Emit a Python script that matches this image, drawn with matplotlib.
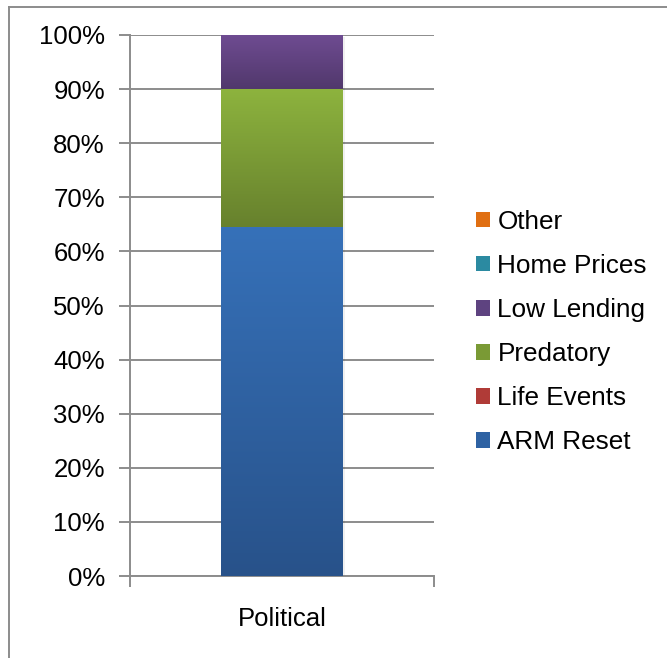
import numpy as np
import matplotlib
matplotlib.use('Agg')
import matplotlib.pyplot as plt
from matplotlib.colors import LinearSegmentedColormap
from matplotlib.patches import Patch
from matplotlib.lines import Line2D
from matplotlib.ticker import PercentFormatter

plt.rcParams['font.family'] = ['Liberation Sans', 'DejaVu Sans']

# dados
categorias = ['Political']
series = ['ARM Reset', 'Life Events', 'Predatory', 'Low Lending', 'Home Prices', 'Other']
valores = [64.5, 0.0, 25.5, 10.0, 0.0, 0.0]
cor_topo = ['#3671B9', '#C0504D', '#8DB33E', '#6F4C92', '#33A0B8', '#F07F1E']
cor_base = ['#28528A', '#94302C', '#67812D', '#51386C', '#237487', '#B85A0E']
cor_legenda = ['#2E62A3', '#B03B37', '#7A9A35', '#5E4380', '#2B8AA1', '#E06F12']

fig = plt.figure(figsize=(6.67, 6.58), dpi=100)
ax = fig.add_axes([130 / 667, 1 - 576 / 658, 304 / 667, 541 / 658])

base = 0.0
for i, nome in enumerate(series):
    barras = ax.bar(0, valores[i], width=0.4, bottom=base, color='none',
                    edgecolor='none', zorder=3)
    if valores[i] > 0:
        p = barras[0]
        x0, x1 = p.get_x(), p.get_x() + p.get_width()
        cmap = LinearSegmentedColormap.from_list(nome, [cor_base[i], cor_topo[i]])
        grad = np.linspace(0, 1, 256).reshape(-1, 1)
        im = ax.imshow(grad, cmap=cmap, origin='lower', aspect='auto',
                       extent=[x0, x1, base, base + valores[i]], zorder=3)
        im.set_clip_path(p)
        # sombra leve
        ax.bar(0.006, valores[i], width=0.4, bottom=base - 0.4, color='#000000',
               alpha=0.06, edgecolor='none', zorder=2)
    base += valores[i]

ax.set_xlim(-0.5, 0.5)
ax.set_ylim(0, 100)
ax.set_yticks(np.arange(0, 101, 10))
ax.yaxis.set_major_formatter(PercentFormatter(decimals=0))
ax.yaxis.grid(True, color='#8C8C8C', linewidth=1.4, zorder=0)
ax.set_axisbelow(True)

ax.set_xticks([-0.5, 0.5])
ax.set_xticklabels([])
ax.set_xticks([0], minor=True)
ax.set_xticklabels(categorias, minor=True)
ax.tick_params(axis='x', which='major', length=8, width=1.4, color='#8C8C8C', direction='out')
ax.tick_params(axis='x', which='minor', length=0, pad=22, labelsize=18.5)
ax.tick_params(axis='y', length=8, width=1.4, color='#8C8C8C', labelsize=18.5, pad=10)

for s in ['top', 'right']:
    ax.spines[s].set_visible(False)
for s in ['left', 'bottom']:
    ax.spines[s].set_color('#8C8C8C')
    ax.spines[s].set_linewidth(1.4)

handles = [Patch(facecolor=cor_legenda[i], edgecolor='none', label=series[i])
           for i in range(len(series))][::-1]
fig.legend(handles=handles, loc='center left', bbox_to_anchor=(476 / 667, 1 - 332 / 658),
           frameon=False, fontsize=18.8, handlelength=0.55, handleheight=0.55,
           handletextpad=0.27, labelspacing=0.77, borderaxespad=0, borderpad=0)

# moldura do grafico
fig.add_artist(Line2D([8.5 / 667, 8.5 / 667], [0, 1 - 6.5 / 658], color='#8C8C8C', lw=1.4))
fig.add_artist(Line2D([8.5 / 667, 1], [1 - 6.5 / 658, 1 - 6.5 / 658], color='#8C8C8C', lw=1.4))

fig.savefig('out.png', dpi=100)
